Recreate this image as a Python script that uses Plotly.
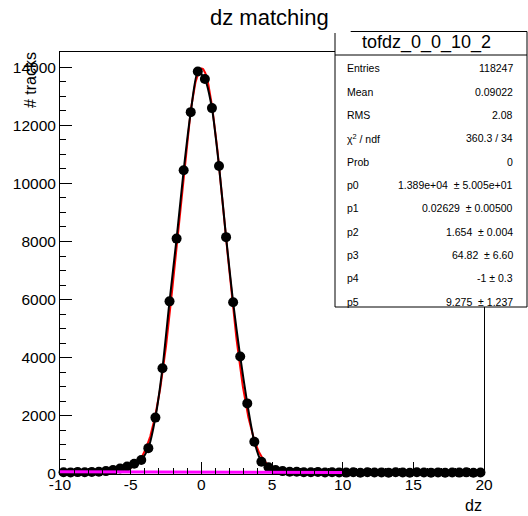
import numpy as np
import plotly.graph_objects as go

# ---- histogram: dz matching, 0.5-wide bins from -10 to 20 ----
bin_lo, bin_hi, bin_width = -10.0, 20.0, 0.5
bin_centers = [bin_lo + bin_width * (i + 0.5) for i in range(int((bin_hi - bin_lo) / bin_width))]

counts = [
    60, 55, 65, 58, 70, 78, 100, 140, 190, 260,          # -9.75 .. -5.25
    350, 480, 890, 1940, 3640, 5940, 8100, 10450, 12450, 13850,  # -4.75 .. -0.25
    13590, 12590, 10600, 8150, 5910, 4045, 2430, 1110, 420, 230,  # 0.25 .. 4.75
    140, 100, 80, 75, 62, 58, 66, 52, 60, 55,             # 5.25 .. 9.75
    48, 58, 45, 62, 50, 55, 47, 60, 52, 44,               # 10.25 .. 14.75
    58, 50, 46, 55, 42, 53, 48, 57, 45, 50,               # 15.25 .. 19.75
]

# ---- fit result (gaussian + linear background), fit range -10 .. 10 ----
fit_range = [-10.0, 10.0]
p0, p1, p2, p3, p4, p5 = 1.389e4, 0.02629, 1.654, 64.82, -1.0, 9.275

stats_rows = [
    ("Entries", "118247"),
    ("Mean", "0.09022"),
    ("RMS", "2.08"),
    ("χ<sup>2</sup> / ndf", "360.3 / 34"),
    ("Prob", "0"),
    ("p0", "1.389e+04 \u00a0± 5.005e+01"),
    ("p1", "0.02629 \u00a0± 0.00500"),
    ("p2", "1.654 \u00a0± 0.004"),
    ("p3", "64.82 \u00a0± 6.60"),
    ("p4", "-1 ± 0.3"),
    ("p5", "9.275 \u00a0± 1.237"),
]

x_ticks = [-10, -5, 0, 5, 10, 15, 20]
y_ticks = [0, 2000, 4000, 6000, 8000, 10000, 12000, 14000]
y_max = 14520

# fit curves evaluated over the fit range
xf = np.linspace(fit_range[0], fit_range[1], 801)
bkg = p3 + p4 * xf
total = p0 * np.exp(-0.5 * ((xf - p1) / p2) ** 2) + bkg

W, H = 528, 516
L, R, T, B = 60, 44, 52, 42
PW, PH = W - L - R, H - T - B


def px(x):
    return (x - L) / PW


def py(y):
    return (H - B - y) / PH


FONT = "Liberation Sans, Arial, sans-serif"

fig = go.Figure()

fig.add_trace(go.Scatter(x=xf, y=total, mode="lines",
                         line=dict(color="#ff0000", width=2), hoverinfo="skip"))
fig.add_trace(go.Scatter(x=bin_centers, y=counts, mode="lines+markers", cliponaxis=False,
                         line=dict(color="black", width=2, shape="spline", smoothing=0.6),
                         marker=dict(color="black", size=10, line=dict(width=0))))
fig.add_trace(go.Scatter(x=xf, y=bkg, mode="lines", cliponaxis=False,
                         line=dict(color="#ff00ff", width=3), hoverinfo="skip"))

# stats box
shapes = [
    dict(type="rect", xref="paper", yref="paper", x0=px(335), x1=px(527), y0=py(307), y1=py(31.5),
         fillcolor="white", line=dict(width=0), layer="above"),
]
line_segs = [
    (335, 33, 335, 307),
    (350.7, 31.5, 527, 31.5),
    (527, 31.5, 527, 307),
    (335, 307, 527, 307),
    (335, 55, 527, 55),
]
for x0, y0, x1, y1 in line_segs:
    shapes.append(dict(type="line", xref="paper", yref="paper", x0=px(x0), x1=px(x1),
                       y0=py(y0), y1=py(y1), line=dict(color="black", width=1), layer="above"))

annotations = [
    dict(text="dz matching", xref="paper", yref="paper", x=px(331), y=py(17),
         xanchor="right", yanchor="middle", showarrow=False,
         font=dict(family=FONT, size=22, color="black")),
    dict(text="tofdz_0_0_10_2", xref="paper", yref="paper", x=px(426), y=py(43),
         xanchor="center", yanchor="middle", showarrow=False,
         font=dict(family=FONT, size=18, color="black")),
    dict(text="# tracks", xref="paper", yref="paper", x=px(30), y=py(50),
         xanchor="center", yanchor="top", textangle=-90, showarrow=False,
         font=dict(family=FONT, size=16, color="black")),
    dict(text="dz", xref="paper", yref="paper", x=px(484), y=py(505),
         xanchor="right", yanchor="middle", showarrow=False,
         font=dict(family=FONT, size=16, color="black")),
]
row_y0, row_dy = 68.3, 23.33
for i, (lab, val) in enumerate(stats_rows):
    yy = py(row_y0 + i * row_dy)
    annotations.append(dict(text=lab, xref="paper", yref="paper", x=px(345), y=yy,
                            xanchor="left", yanchor="middle", showarrow=False,
                            font=dict(family=FONT, size=10.5, color="black")))
    annotations.append(dict(text=val, xref="paper", yref="paper", x=px(515), y=yy,
                            xanchor="right", yanchor="middle", showarrow=False,
                            font=dict(family=FONT, size=10.5, color="black")))

axis_common = dict(showline=True, linecolor="black", linewidth=1, mirror=True,
                   ticks="inside", tickcolor="black", ticklen=12, tickwidth=1,
                   showgrid=False, zeroline=False,
                   tickfont=dict(family=FONT, size=15.5, color="black"))

fig.update_layout(
    width=W, height=H,
    margin=dict(l=L, r=R, t=T, b=B, pad=0),
    paper_bgcolor="white", plot_bgcolor="white",
    showlegend=False,
    xaxis=dict(range=[bin_lo, bin_hi], tickvals=x_ticks, ticktext=[str(v) for v in x_ticks],
               ticklabelstandoff=-4,
               minor=dict(dtick=1, ticks="inside", ticklen=6, tickcolor="black"),
               **axis_common),
    yaxis=dict(range=[0, y_max], tickvals=y_ticks, ticktext=[str(v) for v in y_ticks],
               minor=dict(dtick=500, ticks="inside", ticklen=6, tickcolor="black"),
               **axis_common),
    shapes=shapes,
    annotations=annotations,
)

fig.write_html("out.html")
